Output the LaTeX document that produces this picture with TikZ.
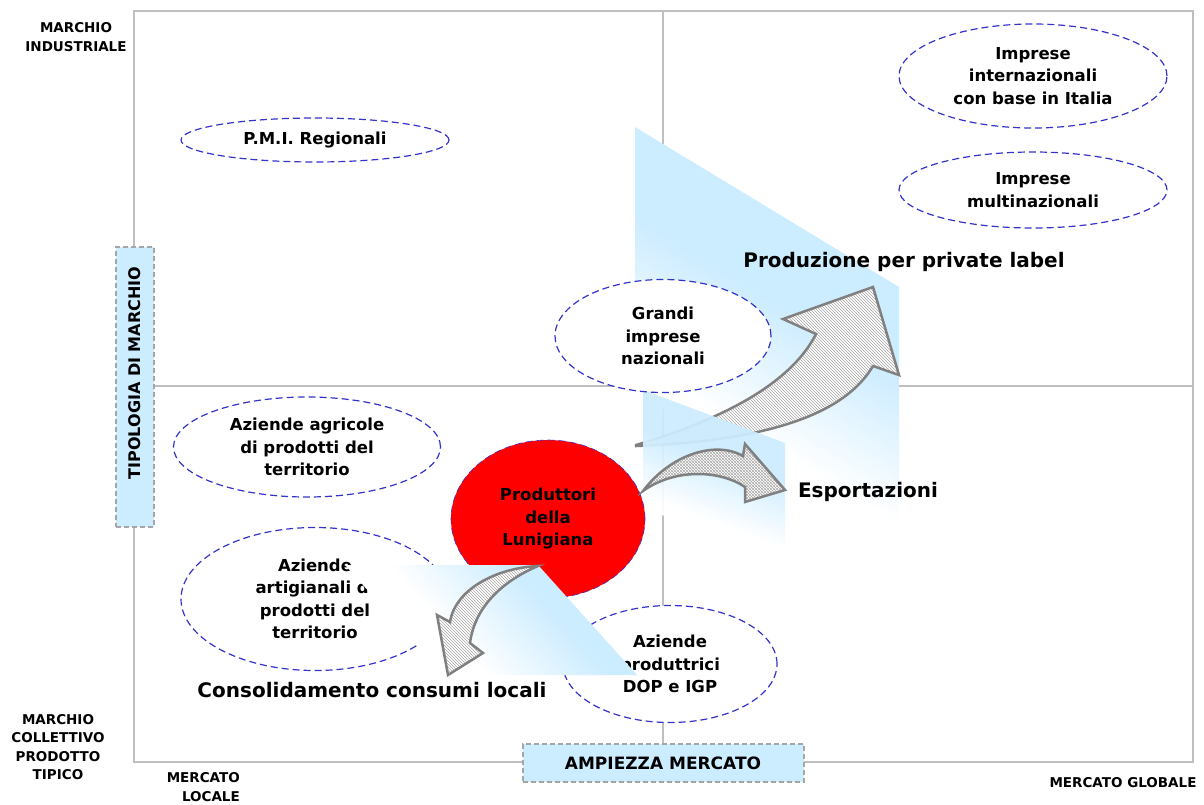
\documentclass[tikz,border=0pt]{standalone}
\usepackage{fontspec}
\setmainfont{DejaVu Sans}
\usepackage{xcolor}
\usepackage{tikz}
\usetikzlibrary{shapes.geometric,patterns}

\definecolor{paleblue}{HTML}{CCECFF}
\definecolor{ringblue}{HTML}{3333CC}
\definecolor{framegray}{HTML}{BFBFBF}
\definecolor{arrowgray}{HTML}{808080}
\pgfdeclareverticalshading{fadedown}{100bp}{color(0bp)=(white); color(30bp)=(white); color(58bp)=(paleblue); color(100bp)=(paleblue)}
\pgfdeclarehorizontalshading{fadeleft}{100bp}{color(0bp)=(white); color(36bp)=(white); color(68bp)=(paleblue); color(100bp)=(paleblue)}

\begin{document}
\begin{tikzpicture}[x=1pt, y=-1pt,
  firm/.style={ellipse, draw=ringblue, dash pattern=on 7pt off 4pt, line width=1.2pt, fill=white, inner sep=0pt, align=center, font=\fontsize{16.5}{22.5}\selectfont\bfseries},
  axistext/.style={align=center, inner sep=0pt, font=\fontsize{13.5}{18.5}\selectfont\bfseries},
  trendtext/.style={inner sep=0pt, font=\fontsize{20}{24}\selectfont\bfseries},
  axisbox/.style={draw=arrowgray!70, dash pattern=on 5pt off 3pt, line width=2pt, fill=paleblue, inner sep=0pt},
  blockarrow/.style={draw=arrowgray, line width=2.5pt, preaction={fill=white}, pattern=north west lines, pattern color=arrowgray!70}]

\useasboundingbox (0,0) rectangle (1204,804);

% quadrants
\draw[framegray, line width=1.5pt] (134,11) rectangle (1193,762);
\draw[framegray, line width=1.5pt] (663,11) -- (663,762);
\draw[framegray, line width=1.5pt] (134,386) -- (1193,386);

% band behind the private label arrow
\begin{scope}[transform canvas={shift={(635,127)}, yslant=-0.606}]
\shade[shading=fadedown] (0,0) rectangle (264,265);
\end{scope}

\draw[blockarrow] (636,445) .. controls (720,420) and (790,385) .. (816,334) -- (783,319) -- (873,287) -- (899,375) -- (873,366) .. controls (850,405) and (790,440) .. (636,446) -- cycle;

% band behind the export arrow
\begin{scope}[transform canvas={shift={(643,390)}, yslant=-0.373}]
\shade[shading=fadedown, opacity=0.93] (0,0) rectangle (142,118);
\end{scope}

% firms
\node[firm, minimum width=268, minimum height=104] (intl) at (1033,76) {Imprese\\internazionali\\con base in Italia};
\node[firm, minimum width=268, minimum height=76] (multi) at (1033,190) {Imprese\\multinazionali};
\node[firm, minimum width=268, minimum height=44] (pmi) at (315,140) {P.M.I. Regionali};
\node[firm, minimum width=216, minimum height=113] (grandi) at (663,336) {Grandi\\imprese\\nazionali};
\node[firm, minimum width=267, minimum height=100] (agricole) at (307,447) {Aziende agricole\\di prodotti del\\territorio};
\node[firm, minimum width=268, minimum height=143] (artig) at (315,599) {Aziende\\artigianali di\\prodotti del\\territorio};
\node[firm, minimum width=214, minimum height=117] (dop) at (670,664) {Aziende\\produttrici\\DOP e IGP};
\node[firm, fill=red, line width=0.6pt, minimum width=194, minimum height=158] (lunigiana) at (548,519) {Produttori\\della\\Lunigiana};

\draw[blockarrow, preaction={pattern=north east lines, pattern color=arrowgray!50}] (643,491) .. controls (670,455) and (715,440) .. (743,456) -- (745,444) -- (785,490) -- (745,502) -- (745,487) .. controls (720,470) and (675,468) .. (643,491) -- cycle;

% band behind the local arrow
\begin{scope}[transform canvas={shift={(345,565)}, xslant=-0.9}]
\shade[shading=fadeleft] (0,0) rectangle (193,110);
\end{scope}

\draw[blockarrow] (538,566) .. controls (495,568) and (455,590) .. (450,622) -- (437,615) -- (448,675) -- (483,653) -- (470,643) .. controls (475,605) and (505,580) .. (538,566) -- cycle;

% trends
\node[trendtext] (privlabel) at (904,262) {Produzione per private label};
\node[trendtext] (export) at (868,492) {Esportazioni};
\node[trendtext] (consumi) at (372,690) {Consolidamento consumi locali};

% axes
\node[axistext] (marind) at (76,37) {MARCHIO\\INDUSTRIALE};
\node[axistext] (marcoll) at (58,747) {MARCHIO\\COLLETTIVO\\PRODOTTO\\TIPICO};
\node[axistext, align=right, anchor=east] (merloc) at (240,787) {MERCATO\\LOCALE};
\node[axistext] (merglob) at (1123,783) {MERCATO GLOBALE};
\node[axisbox, minimum width=281, minimum height=38, font=\fontsize{17}{20}\selectfont\bfseries] (ampiezza) at (663,763) {AMPIEZZA MERCATO};
\node[axisbox, minimum width=38, minimum height=280] (tipbox) at (135,387) {};
\node[rotate=90, inner sep=0pt, font=\fontsize{16}{20}\selectfont\bfseries] (tipologia) at (135,373) {TIPOLOGIA DI MARCHIO};

\end{tikzpicture}
\end{document}
